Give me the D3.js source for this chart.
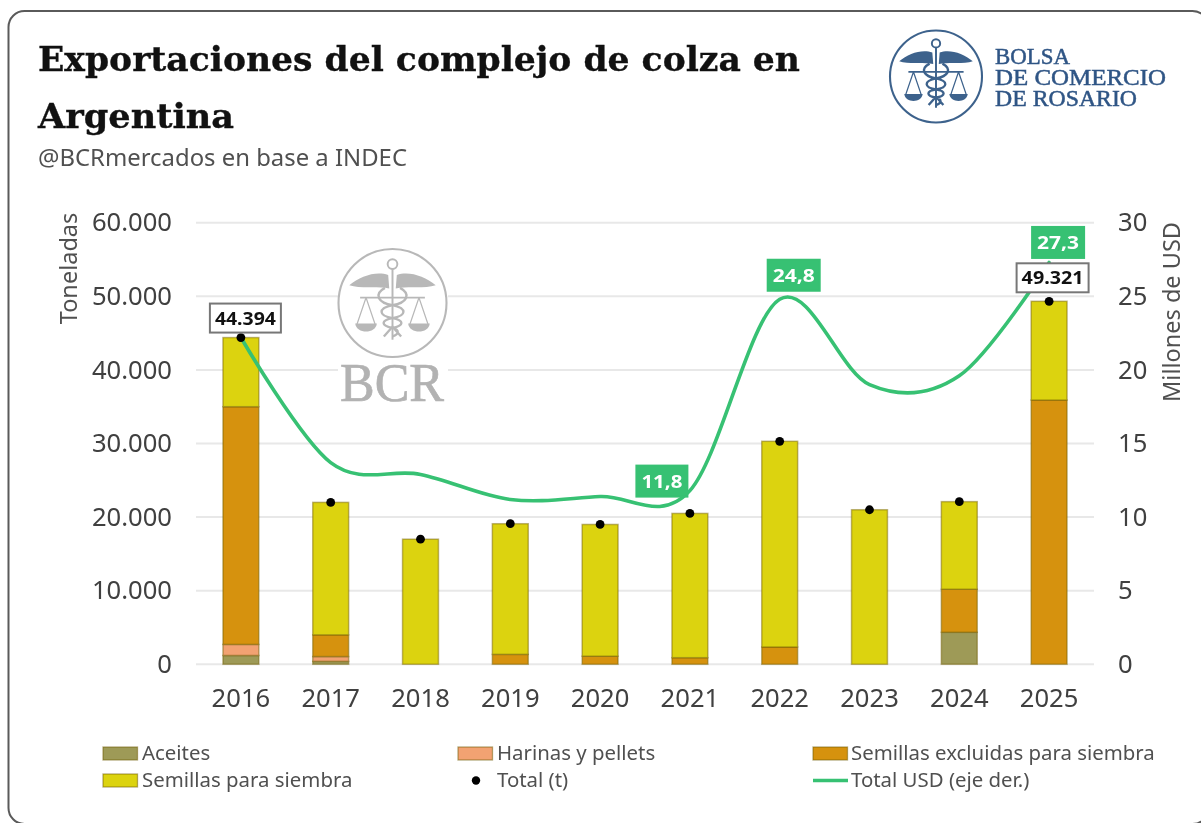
<!DOCTYPE html>
<html><head><meta charset="utf-8">
<script src="https://cdn.jsdelivr.net/npm/d3@7/dist/d3.min.js"></script>
<style>
html,body{margin:0;padding:0;background:#fff;overflow:hidden}
svg{display:block;filter:blur(0.55px)}
text{font-family:"Noto Sans",sans-serif}
</style></head><body>
<div id="chart"></div>
<script>
const years = ["2016","2017","2018","2019","2020","2021","2022","2023","2024","2025"];
const aceites = [1200,400,0,0,0,0,0,0,4350,0];
const harinas = [1500,650,0,0,0,0,0,0,0,0];
const excluidas = [32300,2950,0,1350,1100,900,2350,0,5850,35900];
const siembra = [9394,18000,17000,17750,17900,19600,27950,21000,11900,13421];
const totalT = [44394,22000,17000,19100,19000,20500,30300,21000,22100,49321];
const totalUSD = [22.2,13.7,12.9,11.2,11.4,11.8,24.8,19.0,19.6,27.3];
const leftTicks = [0,10000,20000,30000,40000,50000,60000];
const rightTicks = [0,5,10,15,20,25,30];
const seriesNames = ["Aceites","Harinas y pellets","Semillas excluidas para siembra","Semillas para siembra"];
const seriesColors = ["#9e9a57","#f2a272","#d6920e","#dcd30f"];
const fmt = v => d3.format(",")(v).replace(/,/g,".");

const W=1201,H=823;
const svg=d3.select("#chart").append("svg").attr("width",W).attr("height",H);

// card
svg.append("rect").attr("x",8.5).attr("y",11).attr("width",1200).attr("height",813).attr("rx",16)
  .attr("fill","#fff").attr("stroke","#5a5a5a").attr("stroke-width",2);

// title
const title=svg.append("g").attr("fill","#111").attr("stroke","#111").attr("stroke-width",0.35);
title.append("text").attr("x",38).attr("y",71).attr("textLength",762).attr("lengthAdjust","spacingAndGlyphs")
  .style("font-family","'DejaVu Serif',serif").style("font-weight",700).style("font-size","34px").text("Exportaciones del complejo de colza en");
title.append("text").attr("x",38).attr("y",128).attr("textLength",196).attr("lengthAdjust","spacingAndGlyphs")
  .style("font-family","'DejaVu Serif',serif").style("font-weight",700).style("font-size","34px").text("Argentina");
svg.append("text").attr("x",38).attr("y",166).attr("fill","#505050").style("font-size","23px")
  .attr("textLength",369).attr("lengthAdjust","spacingAndGlyphs").text("@BCRmercados en base a INDEC");

// scales
const x=d3.scaleBand().domain(years).range([196,1094]).paddingInner(0.6).paddingOuter(0.3);
const y=d3.scaleLinear().domain([0,60000]).range([664.3,222.7]);
const yR=d3.scaleLinear().domain([0,30]).range([664.3,222.7]);

// axes
const axL=svg.append("g").attr("transform","translate(196,0)").call(d3.axisLeft(y).tickValues(leftTicks).tickFormat(fmt).tickSize(0).tickPadding(24));
const axR=svg.append("g").attr("transform","translate(1094,0)").call(d3.axisRight(yR).tickValues(rightTicks).tickSize(0).tickPadding(24));
const axB=svg.append("g").attr("transform","translate(0,664.3)").call(d3.axisBottom(x).tickSize(0).tickPadding(25));
[axL,axR,axB].forEach(a=>{a.select(".domain").remove();a.selectAll("text").attr("fill","#404040").style("font-size","25.6px").style("font-family","'Noto Sans',sans-serif");});
axR.selectAll("text").attr("text-anchor","start");

// grid
svg.append("g").selectAll("line").data(leftTicks).join("line")
  .attr("x1",196).attr("x2",1094).attr("y1",d=>y(d)).attr("y2",d=>y(d))
  .attr("stroke","#e8e8e8").attr("stroke-width",2);

// watermark & logo
function logo(g,cx,cy,r,color,sw){
  const s=g.append("g").attr("transform",`translate(${cx},${cy}) scale(${r})`).attr("fill","none").attr("stroke",color).attr("stroke-width",sw/r);
  s.append("circle").attr("r",1).attr("fill","#fff").attr("stroke-width",1.6*sw/r);
  s.append("path").attr("fill",color).attr("stroke","none").attr("d","M-0.8,-0.33 C-0.6,-0.5 -0.3,-0.6 -0.08,-0.52 L-0.06,-0.27 C-0.3,-0.32 -0.6,-0.26 -0.8,-0.33Z M0.8,-0.33 C0.6,-0.5 0.3,-0.6 0.08,-0.52 L0.06,-0.27 C0.3,-0.32 0.6,-0.26 0.8,-0.33Z");
  s.append("circle").attr("cy",-0.72).attr("r",0.09).attr("stroke-width",1.5*sw/r);
  s.append("path").attr("stroke-width",1.5*sw/r).attr("d","M0,-0.63 L0,0.68");
  s.append("path").attr("stroke-width",1.3*sw/r).attr("d","M-0.6,-0.1 L0.6,-0.1");
  s.append("path").attr("stroke-width",1.8*sw/r).attr("d","M-0.14,-0.28 C-0.36,-0.16 -0.26,0 0,0.04 C0.28,0.1 0.26,0.24 0,0.28 C-0.22,0.32 -0.22,0.42 0,0.46 C0.14,0.5 0.12,0.58 0,0.62 M0.14,-0.28 C0.36,-0.16 0.26,0 0,0.04 C-0.28,0.1 -0.26,0.24 0,0.28 C0.22,0.32 0.22,0.42 0,0.46 M-0.16,0.62 L0,0.44 L0.16,0.62");
  [-0.49,0.49].forEach(c=>{
    s.append("path").attr("d",`M${c},-0.1 L${c-0.17},0.4 M${c},-0.1 L${c+0.17},0.4`);
    s.append("path").attr("fill",color).attr("stroke","none").attr("d",`M${c-0.2},0.38 L${c+0.2},0.38 C${c+0.18},0.58 ${c-0.18},0.58 ${c-0.2},0.38Z`);
  });
}
const wm=svg.append("g");
wm.append("rect").attr("x",338).attr("y",252).attr("width",110).attr("height",153).attr("fill","#fff");
logo(wm,392.5,303,54,"#b8b8b8",1.3);
wm.append("text").attr("x",392).attr("y",401).attr("text-anchor","middle").attr("fill","#b2b2b2").attr("stroke","#b2b2b2").attr("stroke-width",0.7)
  .style("font-family","'Liberation Serif',serif").style("font-size","54px").attr("textLength",104).attr("lengthAdjust","spacingAndGlyphs").text("BCR");
const lg=svg.append("g");
logo(lg,936,76.5,46,"#3d628c",1.3);
const logoLines=["BOLSA","DE COMERCIO","DE ROSARIO"];
const logoW=[75,171,142];
lg.selectAll("text").data(logoLines).join("text")
  .attr("x",995).attr("y",(d,i)=>63.5+i*21).attr("fill","#2f5585").attr("stroke","#2f5585").attr("stroke-width",0.5)
  .attr("textLength",(d,i)=>logoW[i]).attr("lengthAdjust","spacingAndGlyphs")
  .style("font-family","'Liberation Serif',serif").style("font-size","23.5px").text(d=>d);

// stacked bars
const rows=years.map((yr,i)=>({yr,a:aceites[i],h:harinas[i],e:excluidas[i],s:siembra[i]}));
const stacked=d3.stack().keys(["a","h","e","s"])(rows);
svg.append("g").selectAll("g").data(stacked).join("g").attr("fill",(d,i)=>seriesColors[i])
  .selectAll("rect").data(d=>d.filter(p=>p[1]>p[0])).join("rect")
  .attr("x",d=>x(d.data.yr)).attr("width",x.bandwidth())
  .attr("y",d=>y(d[1])).attr("height",d=>y(d[0])-y(d[1]))
  .attr("stroke","rgba(110,90,0,0.45)").attr("stroke-width",1.5);

// line
const lineColor="#37c173";
const line=d3.line().x((d,i)=>x(years[i])+x.bandwidth()/2).y(d=>yR(d)).curve(d3.curveCardinal.tension(0));
svg.append("path").datum(totalUSD).attr("d",line).attr("fill","none").attr("stroke",lineColor).attr("stroke-width",3.6).attr("stroke-linecap","round");

// dots
svg.append("g").selectAll("circle").data(totalT).join("circle")
  .attr("cx",(d,i)=>x(years[i])+x.bandwidth()/2).attr("cy",d=>y(d)).attr("r",4.4).attr("fill","#000");

// labels
function box(i,val,dx,dy,w,h,fill,stroke,color,text,tl){
  const cx=x(years[i])+x.bandwidth()/2+dx, cy=val+dy;
  svg.append("rect").attr("x",cx-w/2).attr("y",cy-h/2).attr("width",w).attr("height",h).attr("fill",fill).attr("stroke",stroke).attr("stroke-width",2);
  svg.append("text").attr("x",cx).attr("y",cy+6.5).attr("text-anchor","middle").attr("fill",color)
    .attr("textLength",tl).attr("lengthAdjust","spacingAndGlyphs")
    .style("font-size","18px").style("font-weight",700).text(text);
}
box(0,y(totalT[0]),4.5,-19.5,71,29,"#fff","#777","#111",fmt(totalT[0]),61);
box(9,y(totalT[9]),3.5,-23.5,72,29,"#fff","#777","#111",fmt(totalT[9]),62);
const comma=d=>String(d).replace(".",",");
box(5,yR(totalUSD[5]),-28,-9.5,51,31,lineColor,lineColor,"#fff",comma(totalUSD[5]),41);
box(6,yR(totalUSD[6]),14,-24,52,31,lineColor,lineColor,"#fff",comma(totalUSD[6]),42);
box(9,yR(totalUSD[9]),9,-20,52,31,lineColor,lineColor,"#fff",comma(totalUSD[9]),42);

// axis titles
svg.append("text").attr("transform","translate(77,268.5) rotate(-90)").attr("text-anchor","middle").attr("fill","#505050").style("font-size","23.5px").text("Toneladas");
svg.append("text").attr("transform","translate(1180,312) rotate(-90)").attr("text-anchor","middle").attr("fill","#505050").style("font-size","23.5px").text("Millones de USD");

// legend
const legendX=[103,458,813];
const legendText=[142,497,851];
const legY=[753.5,780.5];
const legItems=[
 {n:seriesNames[0],c:0,r:0,t:"bar",col:seriesColors[0]},
 {n:seriesNames[1],c:1,r:0,t:"bar",col:seriesColors[1]},
 {n:seriesNames[2],c:2,r:0,t:"bar",col:seriesColors[2]},
 {n:seriesNames[3],c:0,r:1,t:"bar",col:seriesColors[3]},
 {n:"Total (t)",c:1,r:1,t:"dot"},
 {n:"Total USD (eje der.)",c:2,r:1,t:"line"}];
const leg=svg.append("g");
legItems.forEach(d=>{
  const lx=legendX[d.c],ly=legY[d.r];
  if(d.t==="bar") leg.append("rect").attr("x",lx).attr("y",ly-6.5).attr("width",34.5).attr("height",13).attr("fill",d.col).attr("stroke","rgba(110,90,0,0.5)").attr("stroke-width",1.3);
  if(d.t==="dot") leg.append("circle").attr("cx",lx+18).attr("cy",ly).attr("r",4.2).attr("fill","#000");
  if(d.t==="line") leg.append("line").attr("x1",lx).attr("x2",lx+35).attr("y1",ly).attr("y2",ly).attr("stroke",lineColor).attr("stroke-width",3.4);
  leg.append("text").attr("x",legendText[d.c]).attr("y",ly+6.5).attr("fill","#505050").style("font-size","20.4px").text(d.n);
});
</script>
</body></html>
